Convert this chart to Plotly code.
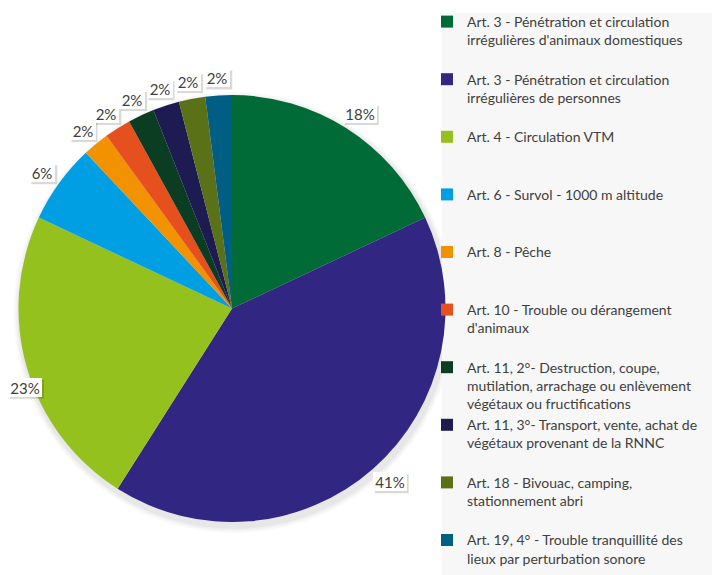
import math
import plotly.graph_objects as go

categories = [
    "Art. 3 - Pénétration et circulation<br>irrégulières d'animaux domestiques",
    "Art. 3 - Pénétration et circulation<br>irrégulières de personnes",
    "Art. 4 - Circulation VTM",
    "Art. 6 - Survol - 1000 m altitude",
    "Art. 8 - Pêche",
    "Art. 10 - Trouble ou dérangement<br>d'animaux",
    "Art. 11, 2°- Destruction, coupe,<br>mutilation, arrachage ou enlèvement<br>végétaux ou fructifications",
    "Art. 11, 3°- Transport, vente, achat de<br>végétaux provenant de la RNNC",
    "Art. 18 - Bivouac, camping,<br>stationnement abri",
    "Art. 19, 4° - Trouble tranquillité des<br>lieux par perturbation sonore",
]
values = [18, 41, 23, 6, 2, 2, 2, 2, 2, 2]
colors = ["#006B37", "#312783", "#95C11F", "#009FE3", "#F39200",
          "#E6501E", "#0A3D22", "#1E1A52", "#5B7118", "#005E85"]

W, H = 712, 575
CX, CY, R = 232, 308.5, 213.5   # pie centre / radius in pixels

# pad legend labels to three lines so that entries are evenly spaced
legend_labels = []
for i, c in enumerate(categories):
    n = c.count("<br>") + 1
    pad = 0 if i == len(categories) - 1 else 3 - n
    legend_labels.append(c + "<br> " * pad)

fig = go.Figure()

# soft shadow under the pie
for k, a in [(7, 0.025), (5, 0.03), (3, 0.04)]:
    fig.add_shape(type="circle", xref="paper", yref="paper",
                  x0=(CX - R - k + 2) / W, x1=(CX + R + k + 2) / W,
                  y0=1 - (CY + R + k + 4) / H, y1=1 - (CY - R - k + 4) / H,
                  fillcolor=f"rgba(0,0,0,{a})", line=dict(width=0), layer="below")

fig.add_trace(go.Pie(
    labels=legend_labels,
    values=values,
    sort=False,
    direction="clockwise",
    rotation=0,
    marker=dict(colors=colors, line=dict(width=0)),
    textinfo="none",
    domain=dict(x=[(CX - R) / W, (CX + R) / W], y=[1 - (CY + R) / H, 1 - (CY - R) / H]),
    showlegend=True,
    hoverinfo="skip",
))

# percentage labels placed outside each slice (positions derived from the values)
total = sum(values)
cum = 0
gap, th, pad = 8, 15, 2
for v in values:
    mid = (cum + v / 2) / total * 2 * math.pi
    cum += v
    txt = f"{round(v / total * 100)}%"
    tw = 8 * len(txt) + 6
    bw, bh = tw + 2 * pad, th + 2 * pad
    s, c = math.sin(mid), math.cos(mid)
    px = CX + (R + gap) * s + bw / 2 * s
    py = CY - (R + gap) * c - bh / 2 * c
    if px < bw / 2 + 8:  # keep inside the chart: slide along the circle
        px = bw / 2 + 8
        dy = math.sqrt(max((R + gap) ** 2 - (px - CX) ** 2, 0))
        py = CY + dy if c < 0 else CY - dy
    fig.add_shape(type="rect", xref="paper", yref="paper", layer="above",
                  x0=(px - bw / 2 + 2) / W, x1=(px + bw / 2 + 2) / W,
                  y0=1 - (py + bh / 2 + 2) / H, y1=1 - (py - bh / 2 + 2) / H,
                  fillcolor="rgba(0,0,0,0.15)", line=dict(width=0))
    fig.add_annotation(
        x=px / W, y=1 - py / H, xref="paper", yref="paper",
        text=txt, showarrow=False, xanchor="center", yanchor="middle",
        width=tw, height=th, borderpad=pad, borderwidth=0,
        font=dict(family="Lato", size=15, color="#404040"),
        bgcolor="white",
    )

fig.add_shape(type="rect", xref="paper", yref="paper",
              x0=442 / W, x1=1, y0=0, y1=1 - 13 / H,
              fillcolor="#F7F7F7", line=dict(width=0), layer="below")

fig.update_layout(
    width=W, height=H,
    margin=dict(l=0, r=0, t=0, b=0, autoexpand=False),
    paper_bgcolor="white",
    plot_bgcolor="white",
    font=dict(family="Lato", size=14, color="#404040"),
    legend=dict(
        x=427 / W, xanchor="left", y=1 - 6 / H, yanchor="top",
        bgcolor="rgba(0,0,0,0)", valign="top",
        font=dict(family="Lato", size=14, color="#404040"),
        traceorder="normal",
    ),
)

fig.write_html("out.html", config={"displayModeBar": False},
               post_script="document.body.style.margin='0';")
